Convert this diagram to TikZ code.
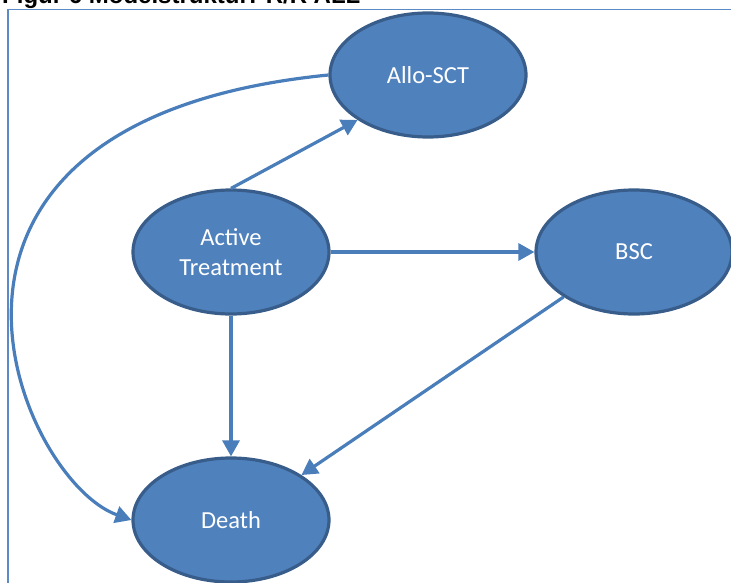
\documentclass[tikz,border=0pt]{standalone}
\usepackage{fontspec}
\setmainfont{Carlito}
\newfontfamily\capfont{Liberation Sans}
\usetikzlibrary{shapes,arrows.meta,positioning}
\definecolor{mfill}{HTML}{4F81BD}
\definecolor{medge}{HTML}{385D8A}
\definecolor{marrow}{HTML}{4A7EBB}
\definecolor{mframe}{HTML}{5B8AC6}
\tikzstyle{l3}=[line width=3.2pt]
\tikzstyle{state}=[ellipse, draw=medge, fill=mfill, l3, minimum width=196pt, minimum height=124pt, inner sep=0pt, text=white, align=center, font=\fontsize{24.5}{30}\selectfont]
\tikzstyle{flow}=[l3, marrow, -{Triangle[length=16pt,width=17pt]}]

\begin{document}
\begin{tikzpicture}[x=1pt, y=-1pt]
    \useasboundingbox (0,0) rectangle (731,583);
    % caption, cut at the top edge
    \begin{scope}
        \clip (0,0) rectangle (731,583);
        \node[anchor=base west, inner sep=0pt, font=\capfont\bfseries\fontsize{24}{28}\selectfont] at (2,3.5) (cap) {Figur 6 Modelstruktur: R/R ALL};
    \end{scope}
    \draw[line width=1.6pt, mframe] (8,600) -- (8,9.5) -- (740,9.5);

    \node[state] at (428,75) (allo) {Allo-SCT};
    \node[state] at (231,252) (act) {Active\\Treatment};
    \node[state] at (634,252) (bsc) {BSC};
    \node[state] at (231,520) (death) {Death};

    \draw[flow] (act.north) -- (allo.south west);
    \draw[flow] (act.east) -- (bsc.west);
    \draw[flow] (act.south) -- (death.north);
    \draw[flow] (bsc.south west) -- (death.north east);
    \draw[flow] (allo.west) .. controls (-136,121) and (19,480) .. (death.west);
\end{tikzpicture}
\end{document}
